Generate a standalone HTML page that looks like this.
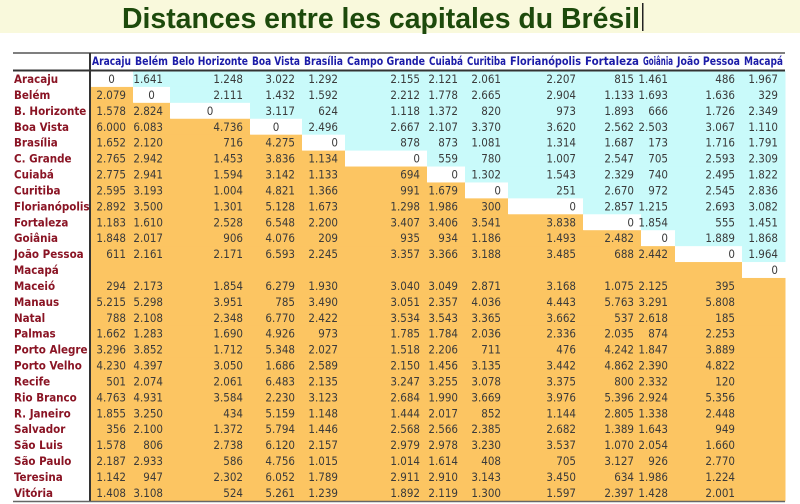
<!DOCTYPE html>
<html><head><meta charset="utf-8">
<style>
html,body{margin:0;padding:0;background:#fff;}
svg{display:block;}
text{font-family:"DejaVu Sans Condensed","DejaVu Sans","Liberation Sans",sans-serif;}
</style></head>
<body>
<svg id="chart" width="800" height="504" viewBox="0 0 800 504">
<rect x="0" y="0" width="800" height="33" fill="#f9f9dc"/>
<text x="122" y="28" textLength="518" lengthAdjust="spacingAndGlyphs" font-size="29" font-weight="bold" fill="#1d4a0c" style="font-family:'Liberation Sans',sans-serif">Distances entre les capitales du Brésil</text>
<rect x="642" y="3" width="1.5" height="28" fill="#222"/>
<g id="cells"></g>
<g id="txt"></g>
<line x1="13" y1="53" x2="785" y2="53" stroke="#555" stroke-width="1.5"/>
<line x1="13" y1="70.5" x2="785" y2="70.5" stroke="#333" stroke-width="2"/>
<line x1="90" y1="53" x2="90" y2="502" stroke="#333" stroke-width="2"/>
<line x1="13" y1="501.5" x2="785" y2="501.5" stroke="#666" stroke-width="1.5"/>
</svg>
<script>
const columns = ["Aracaju","Belém","Belo Horizonte","Boa Vista","Brasília","Campo Grande","Cuiabá","Curitiba","Florianópolis","Fortaleza","Goiânia","João Pessoa","Macapá"];
const rowLabels = ["Aracaju","Belém","B. Horizonte","Boa Vista","Brasília","C. Grande","Cuiabá","Curitiba","Florianópolis","Fortaleza","Goiânia","João Pessoa","Macapá","Maceió","Manaus","Natal","Palmas","Porto Alegre","Porto Velho","Recife","Rio Branco","R. Janeiro","Salvador","São Luis","São Paulo","Teresina","Vitória"];
const distances = [
[0,1641,1248,3022,1292,2155,2121,2061,2207,815,1461,486,1967],
[2079,0,2111,1432,1592,2212,1778,2665,2904,1133,1693,1636,329],
[1578,2824,0,3117,624,1118,1372,820,973,1893,666,1726,2349],
[6000,6083,4736,0,2496,2667,2107,3370,3620,2562,2503,3067,1110],
[1652,2120,716,4275,0,878,873,1081,1314,1687,173,1716,1791],
[2765,2942,1453,3836,1134,0,559,780,1007,2547,705,2593,2309],
[2775,2941,1594,3142,1133,694,0,1302,1543,2329,740,2495,1822],
[2595,3193,1004,4821,1366,991,1679,0,251,2670,972,2545,2836],
[2892,3500,1301,5128,1673,1298,1986,300,0,2857,1215,2693,3082],
[1183,1610,2528,6548,2200,3407,3406,3541,3838,0,1854,555,1451],
[1848,2017,906,4076,209,935,934,1186,1493,2482,0,1889,1868],
[611,2161,2171,6593,2245,3357,3366,3188,3485,688,2442,0,1964],
[null,null,null,null,null,null,null,null,null,null,null,null,0],
[294,2173,1854,6279,1930,3040,3049,2871,3168,1075,2125,395,null],
[5215,5298,3951,785,3490,3051,2357,4036,4443,5763,3291,5808,null],
[788,2108,2348,6770,2422,3534,3543,3365,3662,537,2618,185,null],
[1662,1283,1690,4926,973,1785,1784,2036,2336,2035,874,2253,null],
[3296,3852,1712,5348,2027,1518,2206,711,476,4242,1847,3889,null],
[4230,4397,3050,1686,2589,2150,1456,3135,3442,4862,2390,4822,null],
[501,2074,2061,6483,2135,3247,3255,3078,3375,800,2332,120,null],
[4763,4931,3584,2230,3123,2684,1990,3669,3976,5396,2924,5356,null],
[1855,3250,434,5159,1148,1444,2017,852,1144,2805,1338,2448,null],
[356,2100,1372,5794,1446,2568,2566,2385,2682,1389,1643,949,null],
[1578,806,2738,6120,2157,2979,2978,3230,3537,1070,2054,1660,null],
[2187,2933,586,4756,1015,1014,1614,408,705,3127,926,2770,null],
[1142,947,2302,6052,1789,2911,2910,3143,3450,634,1986,1224,null],
[1408,3108,524,5261,1239,1892,2119,1300,1597,2397,1428,2001,null]
];
</script>
<script>
(function(){
const NS="http://www.w3.org/2000/svg";
const bounds=[90,133,170,250,302,345,427,465,508,583,641,675,742,785];
const top0=71, rowH=15.92;
const cells=document.getElementById('cells'), txt=document.getElementById('txt');
function fmt(v){return v>=1000?Math.floor(v/1000)+"."+String(v%1000).padStart(3,"0"):String(v);}
function mk(tag,attrs,parent){const e=document.createElementNS(NS,tag);for(const k in attrs)e.setAttribute(k,attrs[k]);parent.appendChild(e);return e;}
columns.forEach(function(c,j){
  const t=mk('text',{x:bounds[j]+2,y:65,'font-size':11.5,'font-weight':'bold',fill:'#1c1ca8',textLength:bounds[j+1]-bounds[j]-4,lengthAdjust:'spacingAndGlyphs'},txt);
  t.textContent=c;
  
  
});
rowLabels.forEach(function(r,i){
  const y=top0+i*rowH;
  const t=mk('text',{x:14,y:y+12,'font-size':11.5,'font-weight':'bold',fill:'#8a1424'},txt);
  t.textContent=r;
  
  
  for(let j=0;j<columns.length;j++){
    let fill;
    if(i<columns.length){fill=j<i?'#fcc562':(j===i?'#ffffff':'#c9fafa');}
    else fill='#fcc562';
    const rc=mk('rect',{x:bounds[j],y:y,width:bounds[j+1]-bounds[j]+0.5,height:rowH+0.5,fill:fill},cells);
    
    
    const v=distances[i][j];
    if(v===null||v===undefined)continue;
    let attrs;
    if(v===0&&i<4) attrs={x:(bounds[j]+bounds[j+1])/2,'text-anchor':'middle'};
    else attrs={x:bounds[j+1]-7,'text-anchor':'end'};
    attrs.y=y+12;attrs['font-size']=11.5;attrs.fill='#3a3a3a';
    const vt=mk('text',attrs,txt);
    vt.textContent=fmt(v);
    
    
  }
});
})();
</script>
</body></html>
